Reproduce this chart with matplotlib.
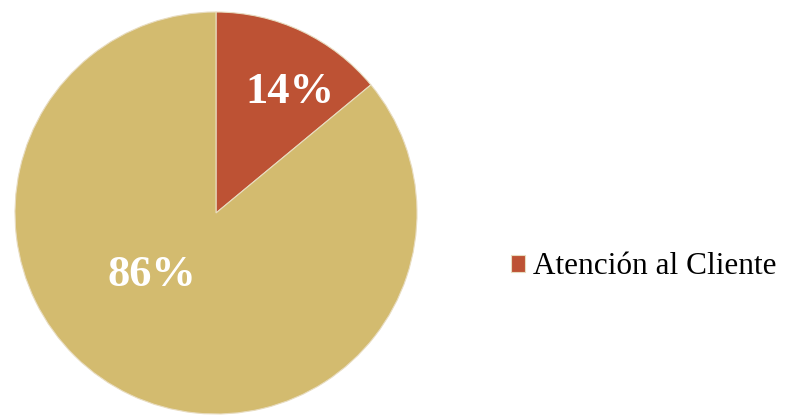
import matplotlib.pyplot as plt

etiquetas = ['Atención al Cliente', '']
valores = [14, 86]
colores = ['#bd5234', '#d3bb6f']

fig = plt.figure(figsize=(7.91, 4.16), dpi=100)
ax = fig.add_axes([15 / 791, 2 / 416, 402 / 791, 402 / 416])

wedges, textos, pcts = ax.pie(valores, colors=colores, startangle=90, counterclock=False,
                              autopct='%1.0f%%', pctdistance=0.7,
                              wedgeprops=dict(edgecolor='#e8dcc0', linewidth=0.8),
                              textprops=dict(color='white', fontsize=32, fontweight='bold',
                                             family='Liberation Serif'))
pcts[0].set_position((0.37, 0.60))
pcts[1].set_position((-0.32, -0.31))
ax.set_xlim(-1, 1)
ax.set_ylim(-1, 1)

fig.legend([wedges[0]], [etiquetas[0]], loc='center left', bbox_to_anchor=(483 / 791, 1 - 267 / 416),
           frameon=False, handlelength=0.45, handleheight=0.45, handletextpad=0.25,
           prop=dict(family='Liberation Serif', size=22.5))

plt.savefig('out.png', dpi=100)
